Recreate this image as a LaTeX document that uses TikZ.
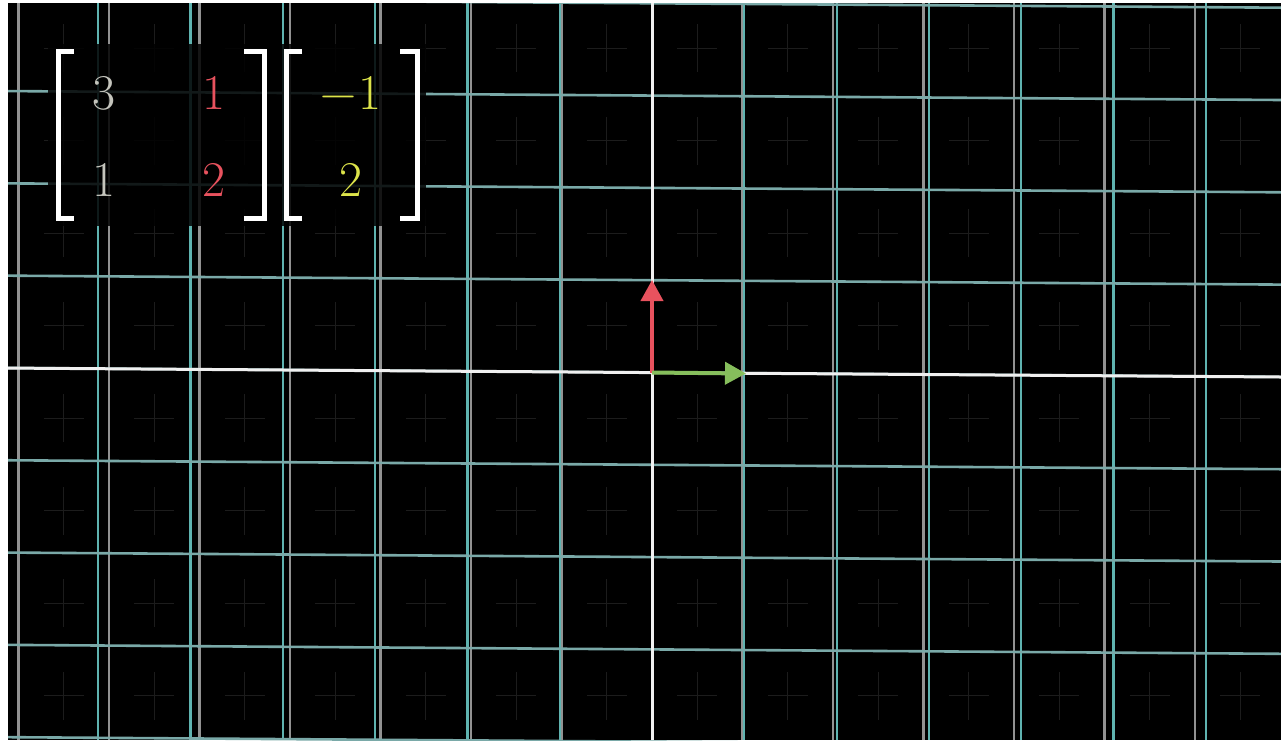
\documentclass[tikz,border=0pt]{standalone}
\usetikzlibrary{arrows.meta}
\definecolor{tealgrid}{HTML}{5FB3B0}
\definecolor{graygrid}{HTML}{929292}
\definecolor{hgrid}{HTML}{7AA9A8}
\definecolor{vred}{HTML}{E8525E}
\definecolor{vgreen}{HTML}{86BE5C}
\definecolor{vyellow}{HTML}{DDE44A}
\definecolor{entrycol}{HTML}{C4C4BC}
\definecolor{minorcol}{HTML}{1C1C1C}
\tikzset{
  graylinestyle/.style={graygrid, line width=2.2pt},
  teallinestyle/.style={tealgrid, line width=2.2pt},
  hlinestyle/.style={hgrid, line width=2.6pt},
  axisstyle/.style={white!88!gray, line width=3pt},
  minorstyle/.style={minorcol, line width=1pt},
  bracketstyle/.style={white, line width=5pt},
  entry/.style={font=\fontsize{50}{56}\selectfont, inner sep=0pt},
  vecarrow/.style={line width=4pt, -{Triangle[length=21pt,width=22pt]}}
}
\begin{document}
\begin{tikzpicture}[x=1pt,y=-1pt]
\useasboundingbox (0,0) rectangle (1281,740);
\fill[white] (0,0) rectangle (1281,740);
\fill[black] (8,3) rectangle (1281,740);
\begin{scope}
\clip (8,3) rectangle (1281,740);
% faint minor crosses
\foreach \i in {-8,...,7} {
  \foreach \j in {-5,...,4} {
    \draw[minorstyle] ({652+90.5*(\i+0.5)-20},{372+92.5*(\j+0.5)}) -- ++(40,0);
    \draw[minorstyle] ({652+90.5*(\i+0.5)},{372+92.5*(\j+0.5)-24}) -- ++(0,48);
  }
}
% gray vertical lines
\foreach \k in {-7,...,7} {
  \draw[graylinestyle] ({652+90.5*\k},3) -- ({652+90.5*\k},740);
}
% teal vertical lines
\foreach \k in {-6,...,6} {
  \draw[teallinestyle] ({652+92.3*\k},3) -- ({652+92.3*\k},740);
}
% horizontal lines (slightly tilted)
\foreach \k in {-4,...,4} {
  \draw[hlinestyle] (0,{372.5+92.3*\k-4.6}) -- (1281,{372.5+92.3*\k+4.4});
}
% axes
\draw[axisstyle] (652,3) -- (652,740);
\draw[axisstyle] (0,368) -- (1281,377);
\end{scope}

% basis vectors
\coordinate (O) at (652,372.5);
\coordinate (J) at (652,280);
\coordinate (I) at (746,373.5);
\draw[vecarrow, vred] (O) -- (J);
\draw[vecarrow, vgreen] (O) -- (I);

% matrix background
\fill[black, fill opacity=0.85] (48,44) rectangle (426,226);

% brackets
\draw[bracketstyle] (74,51) -| (58,218) -- (74,218);
\draw[bracketstyle] (244,51) -| (264,218) -- (244,218);
\draw[bracketstyle] (302,51) -| (286,218) -- (302,218);
\draw[bracketstyle] (400,51) -| (417,218) -- (400,218);

% entries
\node[entry, text=entrycol] (a11) at (104,93) {3};
\node[entry, text=vred] (a12) at (214,93) {1};
\node[entry, text=entrycol] (a21) at (104,180) {1};
\node[entry, text=vred] (a22) at (214,180) {2};
\node[entry, text=vyellow] (v1) at (351,93) {−\kern2pt 1};
\node[entry, text=vyellow] (v2) at (351,180) {2};
\end{tikzpicture}
\end{document}
